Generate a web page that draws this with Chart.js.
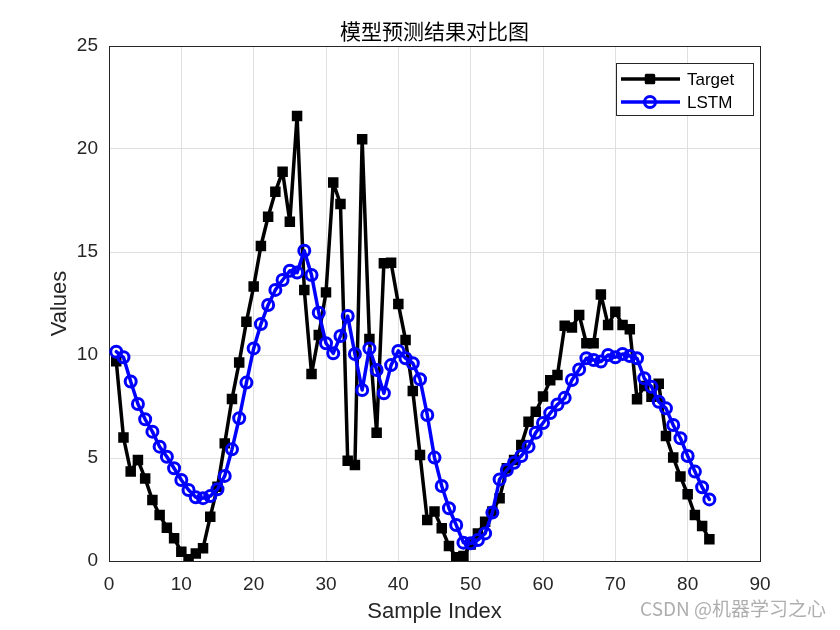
<!DOCTYPE html>
<html>
<head>
<meta charset="utf-8">
<script src="https://cdn.jsdelivr.net/npm/chart.js@4.4.1/dist/chart.umd.min.js"></script>
<style>
  html, body { margin: 0; padding: 0; background: #ffffff; }
  #wrap { width: 840px; height: 630px; }
</style>
</head>
<body>
<div id="wrap"><canvas id="c" width="840" height="630"></canvas></div>
<script>
const chartTitle = "模型预测结果对比图";
const xLabel = "Sample Index";
const yLabel = "Values";
const watermark = "CSDN @机器学习之心";
const seriesNames = ["Target", "LSTM"];

const sampleIndex = Array.from({ length: 83 }, (_, i) => i + 1);

const targetValues = [
  9.7, 6.0, 4.35, 4.9, 4.0, 2.96, 2.23, 1.62, 1.1, 0.45,
  0.08, 0.37, 0.62, 2.15, 3.6, 5.71, 7.86, 9.64, 11.62, 13.32,
  15.29, 16.71, 17.93, 18.9, 16.47, 21.6, 13.16, 9.08, 10.97, 13.04,
  18.37, 17.33, 4.87, 4.66, 20.47, 10.78, 6.23, 14.45, 14.48, 12.48,
  10.73, 8.25, 5.15, 1.99, 2.4, 1.59, 0.73, 0.18, 0.24, 0.8,
  1.34, 1.9, 2.4, 3.05, 4.5, 4.9, 5.63, 6.76, 7.25, 7.98,
  8.77, 9.03, 11.42, 11.34, 11.94, 10.57, 10.57, 12.94, 11.46, 12.1,
  11.46, 11.25, 7.85, 8.5, 7.97, 8.6, 6.07, 5.03, 4.1, 3.24,
  2.23, 1.7, 1.05
];

const lstmValues = [
  10.16, 9.89, 8.71, 7.62, 6.88, 6.28, 5.55, 5.06, 4.5, 3.93,
  3.45, 3.09, 3.05, 3.15, 3.48, 4.13, 5.42, 6.93, 8.66, 10.32,
  11.5, 12.43, 13.16, 13.64, 14.09, 14.0, 15.06, 13.88, 12.05, 10.57,
  10.08, 10.92, 11.89, 10.05, 8.3, 10.32, 9.27, 8.14, 9.51, 10.2,
  9.84, 9.6, 8.82, 7.09, 5.02, 3.64, 2.56, 1.75, 0.89, 0.86,
  1.02, 1.34, 2.35, 3.96, 4.42, 4.77, 5.1, 5.55, 6.23, 6.7,
  7.18, 7.6, 7.92, 8.79, 9.3, 9.84, 9.76, 9.68, 10.0, 9.89,
  10.05, 9.95, 9.84, 8.87, 8.46, 7.73, 7.41, 6.6, 5.96, 5.1,
  4.34, 3.58, 2.99
];

const xTicks = [0, 10, 20, 30, 40, 50, 60, 70, 80, 90];
const yTicks = [0, 5, 10, 15, 20, 25];

const axisColor = '#262626';
const gridColor = '#dfdfdf';
const FONT = "'Liberation Sans', Arial, Helvetica, sans-serif";
const CJK = "'Noto Sans CJK SC', 'Noto Sans CJK JP', sans-serif";

const legendPlugin = {
  id: 'boxLegend',
  afterDatasetsDraw(chart) {
    const ctx = chart.ctx;
    const bx = 616, by = 63, bw = 137, bh = 52;
    ctx.save();
    ctx.fillStyle = '#ffffff';
    ctx.fillRect(bx, by, bw, bh);
    ctx.strokeStyle = axisColor;
    ctx.lineWidth = 1;
    ctx.strokeRect(bx + 0.5, by + 0.5, bw, bh);
    const rows = [79, 102];
    chart.data.datasets.forEach((ds, i) => {
      const y = rows[i];
      ctx.lineJoin = 'round';
      ctx.strokeStyle = ds.borderColor;
      ctx.lineWidth = ds.borderWidth;
      ctx.beginPath();
      ctx.moveTo(621, y);
      ctx.lineTo(680, y);
      ctx.stroke();
      ctx.fillStyle = ds.pointBackgroundColor;
      ctx.strokeStyle = ds.pointBorderColor;
      ctx.lineWidth = ds.pointBorderWidth;
      ctx.beginPath();
      if (ds.pointStyle === 'rect') {
        const s = Math.SQRT1_2 * ds.pointRadius;
        ctx.rect(650 - s, y - s, 2 * s, 2 * s);
      } else {
        ctx.arc(650, y, ds.pointRadius, 0, Math.PI * 2);
      }
      ctx.fill();
      ctx.stroke();
      ctx.fillStyle = '#000000';
      ctx.font = "17px " + FONT;
      ctx.textBaseline = 'middle';
      ctx.textAlign = 'left';
      ctx.fillText(ds.label, 687, y + 1);
    });
    ctx.restore();
  },
  afterDraw(chart) {
    const ctx = chart.ctx;
    ctx.save();
    ctx.fillStyle = 'rgba(120,120,120,0.6)';
    ctx.font = "19px " + CJK;
    ctx.textAlign = 'right';
    ctx.textBaseline = 'middle';
    ctx.fillText(watermark, 826, 609);
    ctx.restore();
  }
};

new Chart(document.getElementById('c'), {
  type: 'line',
  data: {
    datasets: [
      {
        label: seriesNames[0],
        data: sampleIndex.map((x, i) => ({ x: x, y: targetValues[i] })),
        borderColor: '#000000',
        borderWidth: 3.5,
        borderJoinStyle: 'round',
        borderCapStyle: 'round',
        pointStyle: 'rect',
        pointRadius: 5.3,
        pointBorderWidth: 3,
        pointBackgroundColor: '#000000',
        pointBorderColor: '#000000',
        tension: 0,
        order: 2,
        xAxisID: 'x',
        yAxisID: 'y'
      },
      {
        label: seriesNames[1],
        data: sampleIndex.map((x, i) => ({ x: x, y: lstmValues[i] })),
        borderColor: '#0000ff',
        borderWidth: 3.5,
        borderJoinStyle: 'round',
        borderCapStyle: 'round',
        pointStyle: 'circle',
        pointRadius: 5.5,
        pointBorderWidth: 3,
        pointBackgroundColor: 'rgba(0,0,0,0)',
        pointBorderColor: '#0000ff',
        tension: 0,
        order: 1,
        xAxisID: 'x',
        yAxisID: 'y'
      }
    ]
  },
  options: {
    responsive: false,
    animation: false,
    devicePixelRatio: 1,
    layout: { padding: 0 },
    plugins: {
      legend: { display: false },
      tooltip: { enabled: false },
      title: { display: false }
    },
    scales: {
      x: {
        type: 'linear',
        position: 'bottom',
        min: 0, max: 90,
        afterBuildTicks: (s) => { s.ticks = xTicks.map(v => ({ value: v })); },
        afterFit: (s) => { s.height = 69; },
        ticks: { color: axisColor, font: { family: FONT, size: 19 }, padding: 12, maxRotation: 0, autoSkip: false },
        grid: { color: gridColor, lineWidth: 1, drawTicks: false },
        border: { display: true, color: axisColor, width: 1 },
        title: { display: true, text: xLabel, color: axisColor, font: { family: FONT, size: 22 }, padding: { top: 0, bottom: 5 } }
      },
      x2: {
        type: 'linear',
        position: 'top',
        min: 0, max: 90,
        afterFit: (s) => { s.height = 46; },
        ticks: { display: false },
        grid: { display: true, drawOnChartArea: false, drawTicks: false },
        border: { display: true, color: axisColor, width: 1 },
        title: { display: true, text: chartTitle, color: '#000000', font: { family: CJK, size: 21 }, padding: { top: 18, bottom: 0 } }
      },
      y: {
        type: 'linear',
        position: 'left',
        min: 0, max: 25,
        afterBuildTicks: (s) => { s.ticks = yTicks.map(v => ({ value: v })); },
        afterFit: (s) => { s.width = 109; },
        ticks: { color: axisColor, font: { family: FONT, size: 19 }, padding: 11 },
        grid: { color: gridColor, lineWidth: 1, drawTicks: false },
        border: { display: true, color: axisColor, width: 1 },
        title: { display: true, text: yLabel, color: axisColor, font: { family: FONT, size: 22 }, padding: { top: 47, bottom: 0 } }
      },
      y2: {
        type: 'linear',
        position: 'right',
        min: 0, max: 25,
        afterFit: (s) => { s.width = 80; },
        ticks: { display: false },
        grid: { display: true, drawOnChartArea: false, drawTicks: false },
        border: { display: true, color: axisColor, width: 1 }
      }
    }
  },
  plugins: [legendPlugin]
});
</script>
</body>
</html>
